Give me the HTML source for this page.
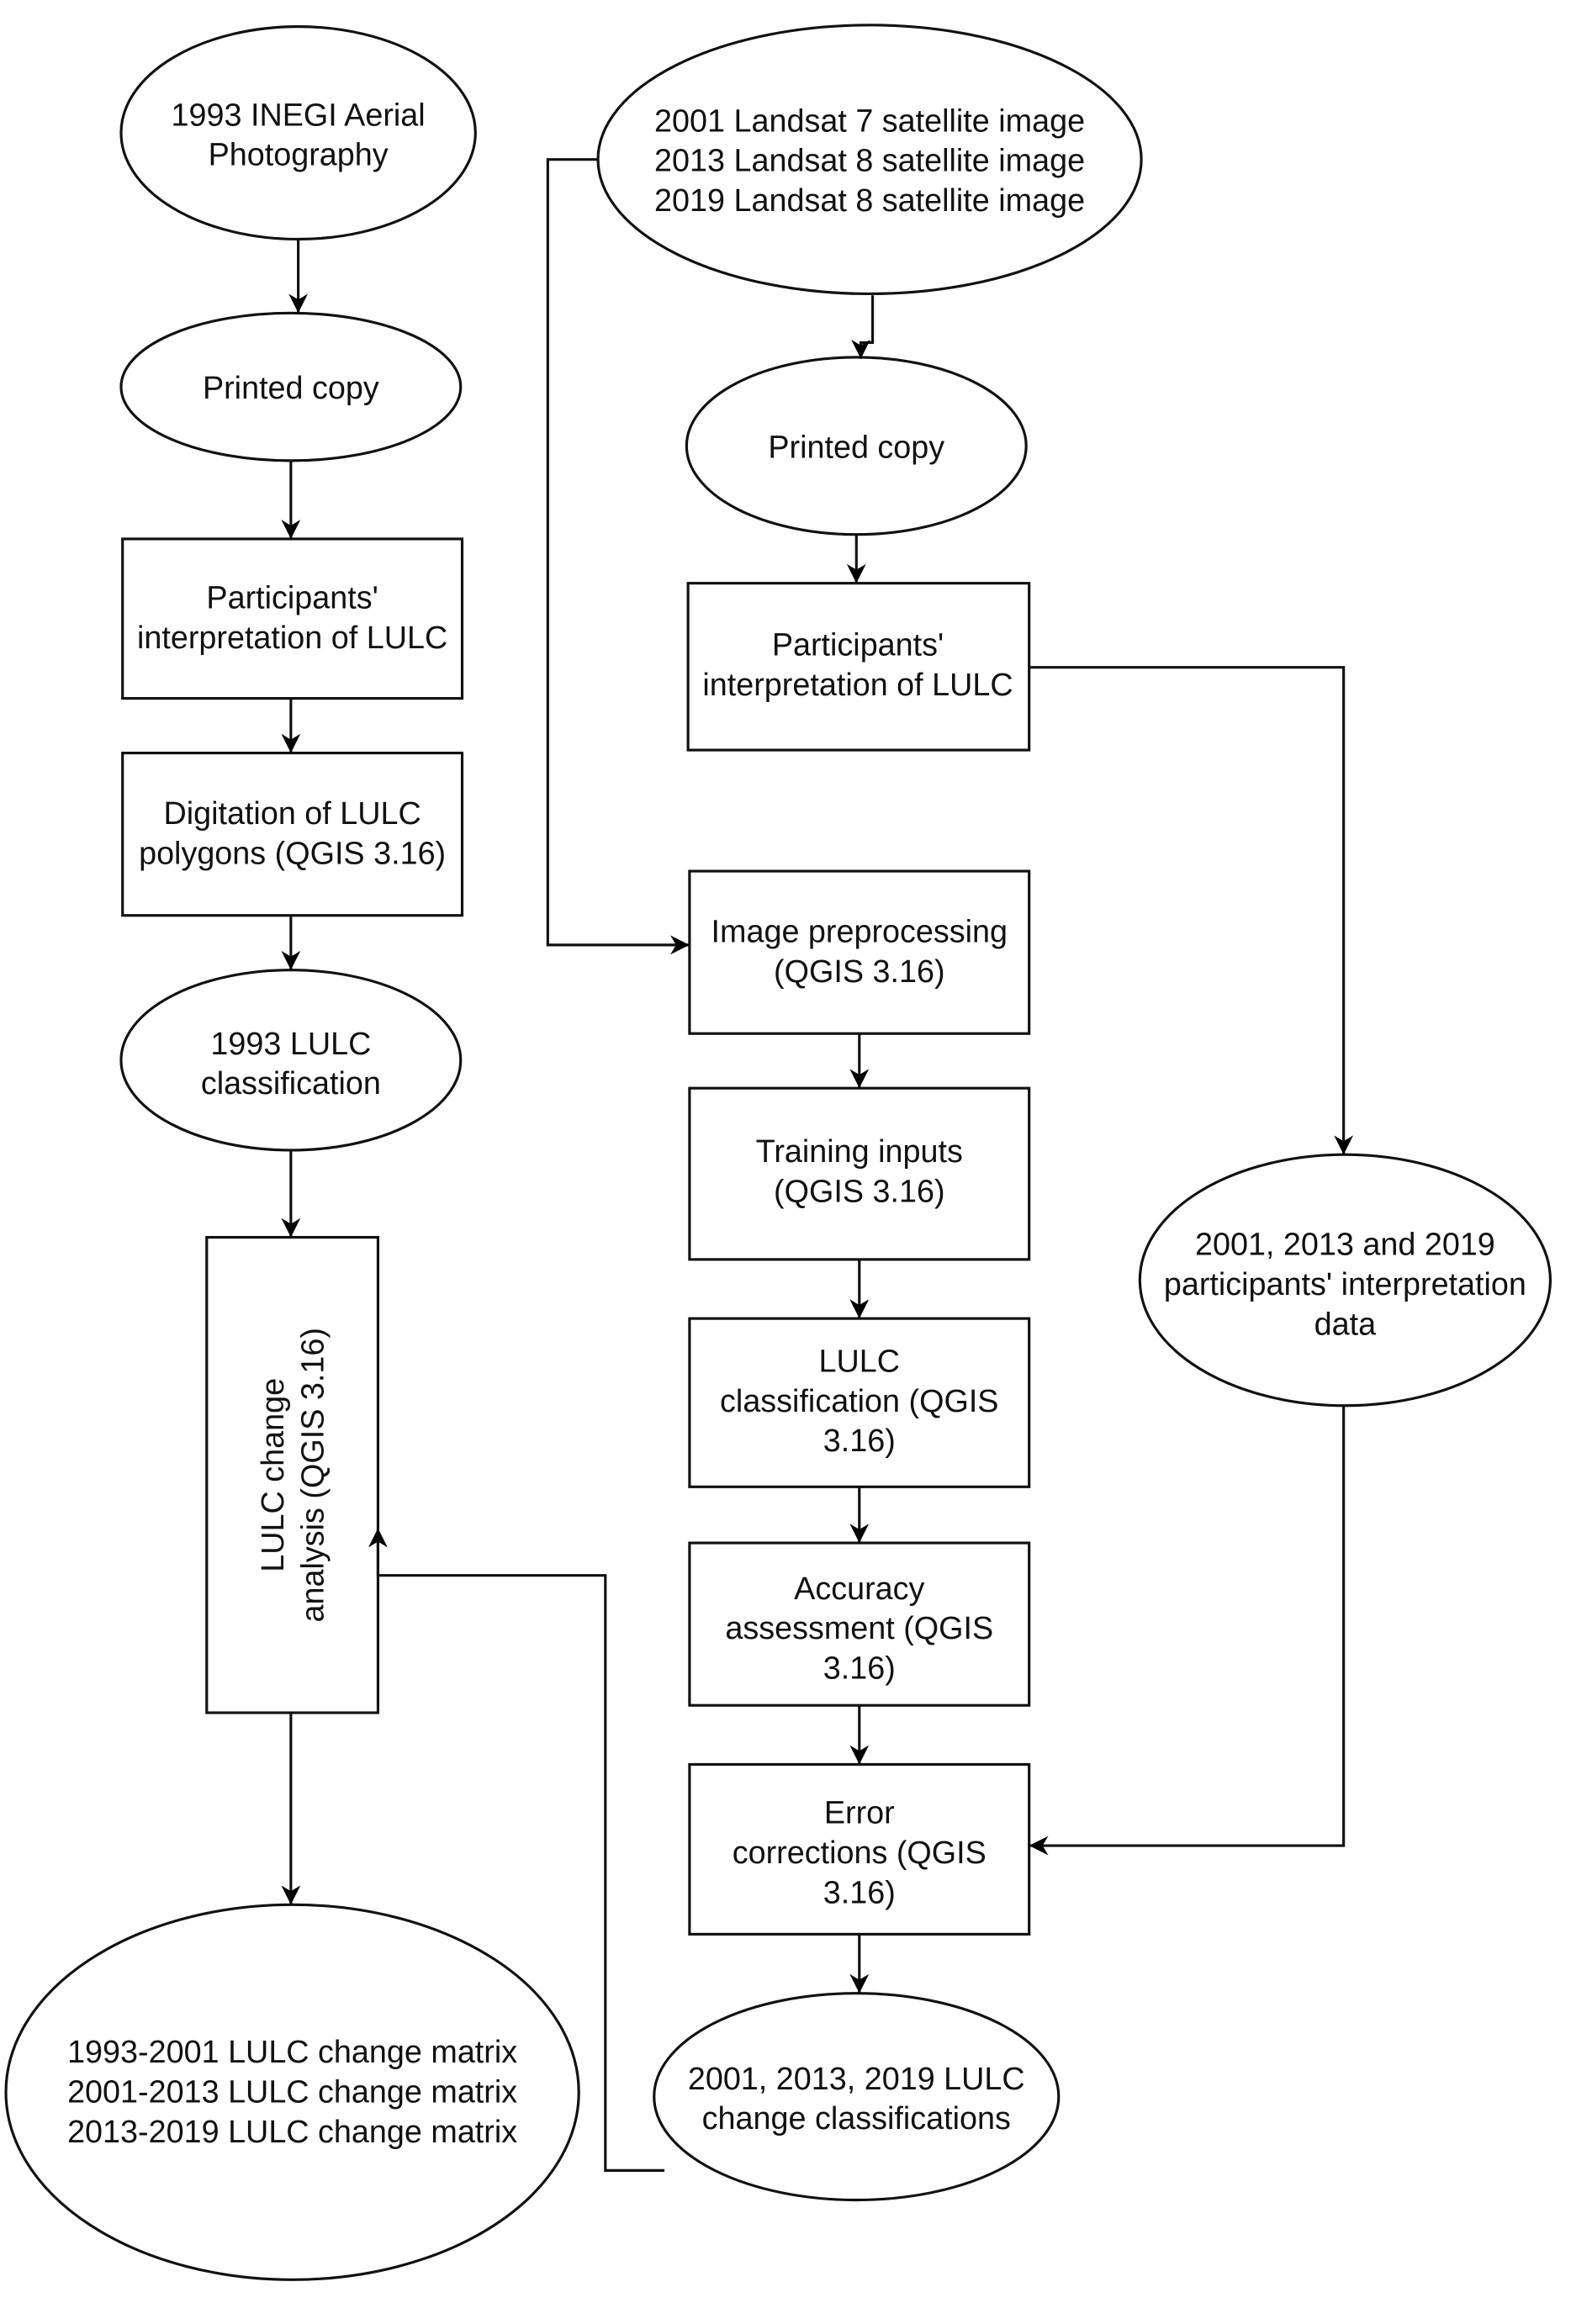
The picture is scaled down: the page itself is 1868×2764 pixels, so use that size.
<!DOCTYPE html>
<html><head><meta charset="utf-8"><style>
html,body{margin:0;padding:0;background:#fff;}
svg{display:block;}
text{font-family:"Liberation Sans",Arial,Helvetica,sans-serif;font-size:21.5px;fill:#111;text-anchor:middle;}
</style></head><body>
<svg width="1868" height="2764" viewBox="0 0 1064 1574" preserveAspectRatio="none" xmlns="http://www.w3.org/2000/svg">
<defs>
<marker id="a" viewBox="0 0 10 10" refX="10" refY="5" markerWidth="13" markerHeight="13" markerUnits="userSpaceOnUse" orient="auto">
<path d="M0,0 L10,5 L0,10 L3,5 z" fill="#000"/>
</marker>
</defs>
<g fill="#fff" stroke="#111" stroke-width="1.8">
<ellipse cx="202" cy="90" rx="120" ry="72"/>
<ellipse cx="197" cy="262" rx="115" ry="50"/>
<rect x="83" y="365" width="230" height="108"/>
<rect x="83" y="510" width="230" height="110"/>
<ellipse cx="197" cy="718" rx="115" ry="61"/>
<rect x="140" y="838" width="116" height="322"/>
<ellipse cx="198" cy="1417" rx="194" ry="127"/>
<ellipse cx="589" cy="108" rx="184" ry="91"/>
<ellipse cx="580" cy="302" rx="115" ry="60"/>
<rect x="466" y="395" width="231" height="113"/>
<rect x="467" y="590" width="230" height="110"/>
<rect x="467" y="737" width="230" height="116"/>
<rect x="467" y="893" width="230" height="114"/>
<rect x="467" y="1045" width="230" height="110"/>
<rect x="467" y="1195" width="230" height="115"/>
<ellipse cx="580" cy="1420" rx="137" ry="70"/>
<ellipse cx="911" cy="867" rx="139" ry="85"/>
</g>
<g fill="none" stroke="#111" stroke-width="1.8" marker-end="url(#a)">
<path d="M202 162 V212"/>
<path d="M197 312 V365"/>
<path d="M197 473 V510"/>
<path d="M197 620 V657"/>
<path d="M197 779 V838"/>
<path d="M197 1160 V1290"/>
<path d="M405 108 H371 V640 H467"/>
<path d="M591 200 V232 H583 V243"/>
<path d="M580 362 V395"/>
<path d="M697 452 H910 V782"/>
<path d="M910 952 V1250 H697"/>
<path d="M582 700 V737"/>
<path d="M582 853 V893"/>
<path d="M582 1007 V1045"/>
<path d="M582 1155 V1195"/>
<path d="M582 1310 V1350"/>
<path d="M450 1470 H410 V1067 H256 V1035"/>
</g>
<g>
<text x="202" y="85">1993 INEGI Aerial</text>
<text x="202" y="112">Photography</text>
<text x="197" y="270">Printed copy</text>
<text x="198" y="412">Participants'</text>
<text x="198" y="439">interpretation of LULC</text>
<text x="198" y="558">Digitation of LULC</text>
<text x="198" y="585">polygons (QGIS 3.16)</text>
<text x="197" y="714">1993 LULC</text>
<text x="197" y="741">classification</text>
<text transform="translate(198,999) rotate(-90)"><tspan x="0" y="-6">LULC change</tspan><tspan x="0" y="21">analysis (QGIS 3.16)</tspan></text>
<text x="198" y="1397">1993-2001 LULC change matrix</text>
<text x="198" y="1424">2001-2013 LULC change matrix</text>
<text x="198" y="1451">2013-2019 LULC change matrix</text>
<text x="589" y="89">2001 Landsat 7 satellite image</text>
<text x="589" y="116">2013 Landsat 8 satellite image</text>
<text x="589" y="143">2019 Landsat 8 satellite image</text>
<text x="580" y="310">Printed copy</text>
<text x="581" y="444">Participants'</text>
<text x="581" y="471">interpretation of LULC</text>
<text x="582" y="638">Image preprocessing</text>
<text x="582" y="665">(QGIS 3.16)</text>
<text x="582" y="787">Training inputs</text>
<text x="582" y="814">(QGIS 3.16)</text>
<text x="582" y="929">LULC</text>
<text x="582" y="956">classification (QGIS</text>
<text x="582" y="983">3.16)</text>
<text x="582" y="1083">Accuracy</text>
<text x="582" y="1110">assessment (QGIS</text>
<text x="582" y="1137">3.16)</text>
<text x="582" y="1235">Error</text>
<text x="582" y="1262">corrections (QGIS</text>
<text x="582" y="1289">3.16)</text>
<text x="580" y="1415">2001, 2013, 2019 LULC</text>
<text x="580" y="1442">change classifications</text>
<text x="911" y="850">2001, 2013 and 2019</text>
<text x="911" y="877">participants' interpretation</text>
<text x="911" y="904">data</text>
</g>
</svg>
</body></html>
